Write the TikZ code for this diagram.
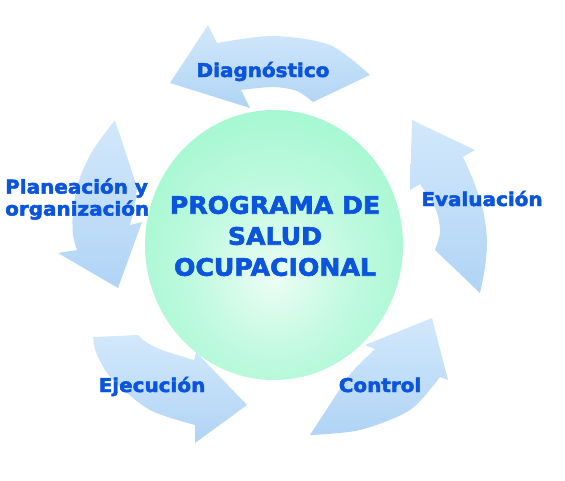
\documentclass[tikz,border=0pt]{standalone}
\usepackage{fontspec}
\usepackage{tikz}
\newfontfamily\lblfont{DejaVu Sans}[FakeStretch=1.05,BoldFeatures={FakeBold=2.5}]
\definecolor{mint}{RGB}{146,246,200}
\definecolor{mintlight}{RGB}{236,253,245}
\definecolor{arrowblue}{RGB}{176,212,245}
\definecolor{arrowlight}{RGB}{210,232,251}
\definecolor{textblue}{RGB}{10,84,222}
\pgfdeclareradialshading{mintball}{\pgfpoint{0bp}{-6bp}}{color(0bp)=(mintlight); color(16bp)=(mintlight!50!mint); color(40bp)=(mint); color(100bp)=(mint)}

\begin{document}
\begin{tikzpicture}[x=1pt,y=-1pt,
  cyclearrow/.style={top color=arrowlight,bottom color=arrowblue,draw=none},
  lbl/.style={font=\lblfont\bfseries\fontsize{19}{22}\selectfont,text=textblue,inner sep=0pt}]
\useasboundingbox (0,0) rectangle (565,480);
% arrows of the cycle
\shade[cyclearrow] (313,102) -- plot[smooth] coordinates {(370,75) (330,45) (273,36) (217,43)} -- (208,25) -- (170,83) -- (250,108) -- plot[smooth] coordinates {(241,90) (273,87) (297,91) (313,102)} -- cycle;
\shade[cyclearrow] plot[smooth] coordinates {(115,120) (93,150) (79,180) (73,210) (73,235) (77,250)} -- (58,253) -- (118,288) -- (142,222) -- plot[smooth] coordinates {(130,225) (135,205) (137,187)} -- cycle;
\shade[cyclearrow] plot[smooth] coordinates {(93,337) (97,355) (113,380) (150,410) (195,425)} -- (195,443) -- (247,405) -- (196,352) -- plot[smooth] coordinates {(194,360) (162,350) (146,342) (138,335)} -- cycle;
\shade[cyclearrow] plot[smooth] coordinates {(310,435) (360,430) (410,410) (440,377)} -- (448,380) -- (432,318) -- (365,345) -- plot[smooth] coordinates {(375,349) (352,372) (338,392)} -- cycle;
\shade[cyclearrow] plot[smooth] coordinates {(480,293) (485,267) (487,240) (483,210) (474,182) (463,157)} -- (475,150) -- (412,120) -- (410,190) -- plot[smooth] coordinates {(420,184) (436,210) (440,232) (435,250)} -- cycle;
% ball
\shade[shading=mintball] (274,245) ellipse (129 and 135);
% texts
\node[lbl,anchor=base] (diag) at (263,77) {Diagnóstico};
\node[lbl,anchor=west,align=left] (plan) at (5,199) {Planeación y\\organización};
\node[lbl,anchor=base] (ejec) at (152,392) {Ejecución};
\node[lbl,anchor=base] (ctrl) at (380,392) {Control};
\node[lbl,anchor=base] (eval) at (482,206) {Evaluación};
\node[lbl,font=\lblfont\bfseries\fontsize{24}{31}\selectfont,align=center] (prog) at (275,236) {PROGRAMA DE\\SALUD\\OCUPACIONAL};
\end{tikzpicture}
\end{document}
